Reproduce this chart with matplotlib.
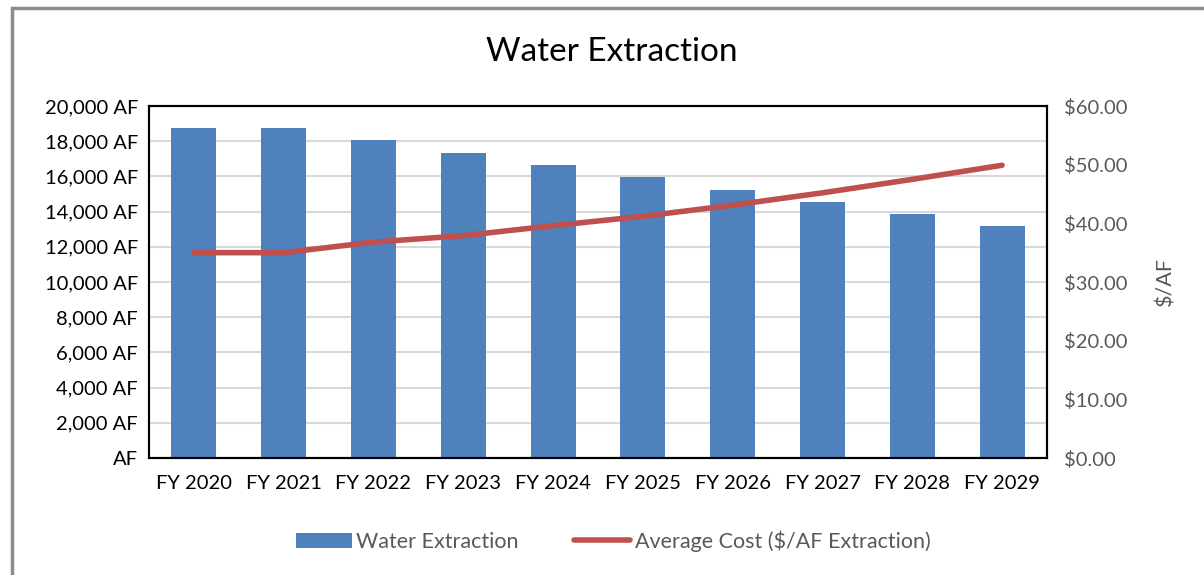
import matplotlib.pyplot as plt
from matplotlib.patches import Rectangle
from matplotlib.ticker import FuncFormatter

plt.rcParams['font.family'] = ['Lato', 'DejaVu Sans']

# data
years = ['FY 2020', 'FY 2021', 'FY 2022', 'FY 2023', 'FY 2024',
         'FY 2025', 'FY 2026', 'FY 2027', 'FY 2028', 'FY 2029']
extraction = [18750, 18750, 18050, 17350, 16650, 15950, 15250, 14560, 13880, 13180]
avg_cost = [35.0, 35.0, 36.8, 37.9, 39.6, 41.2, 43.1, 45.2, 47.5, 49.9]

fig = plt.figure(figsize=(12.04, 5.75), dpi=100)
ax = fig.add_axes([149/1204, 1-458/575, (1047-149)/1204, (458-106)/575])
ax2 = ax.twinx()

x = range(len(years))
bars = ax.bar(x, extraction, width=0.5, color='#4F81BD', label='Water Extraction', zorder=2)
line, = ax2.plot(x, avg_cost, color='#C0504D', lw=4, solid_capstyle='round',
                 label='Average Cost ($/AF Extraction)', zorder=3)

ax.set_xlim(-0.5, len(years) - 0.5)
ax.set_ylim(0, 20000)
ax.set_yticks(range(0, 20001, 2000))
ax.yaxis.set_major_formatter(FuncFormatter(lambda v, p: 'AF' if v == 0 else f'{v:,.0f} AF'))
ax.set_xticks(list(x))
ax.set_xticklabels(years)
ax.grid(axis='y', color='#d9d9d9', lw=1.5, zorder=0)
ax.set_axisbelow(True)

ax2.set_ylim(0, 60)
ax2.set_yticks(range(0, 61, 10))
ax2.yaxis.set_major_formatter(FuncFormatter(lambda v, p: f'${v:.2f}'))
ax2.set_ylabel('$/AF', fontsize=15.5, color='#595959', labelpad=20)

ax.tick_params(axis='y', length=0, labelsize=14.5, colors='black', pad=8)
ax.tick_params(axis='x', length=0, labelsize=14.5, colors='black', pad=12)
ax2.tick_params(axis='y', length=0, labelsize=14.5, labelcolor='#595959', pad=12)

for a in (ax, ax2):
    for s in a.spines.values():
        s.set_color('black')
        s.set_linewidth(1.5)

fig.text(612/1204, 1-52/575, 'Water Extraction', ha='center', va='center', fontsize=24)

leg = fig.legend([bars, line], ['Water Extraction', 'Average Cost ($/AF Extraction)'],
                 loc='center', bbox_to_anchor=(613/1204, 1-541/575), ncol=2,
                 frameon=False, fontsize=15.5, handlelength=2.6, columnspacing=2.6,
                 handletextpad=0.2)
for t in leg.get_texts():
    t.set_color('#595959')

# outer frame
fig.patches.append(Rectangle((12/1204, -0.05), 1.1, 1 - 8/575 + 0.05,
                             transform=fig.transFigure, fill=False,
                             edgecolor='#8c8c8c', lw=2.5))

fig.savefig('out.png', dpi=100)
